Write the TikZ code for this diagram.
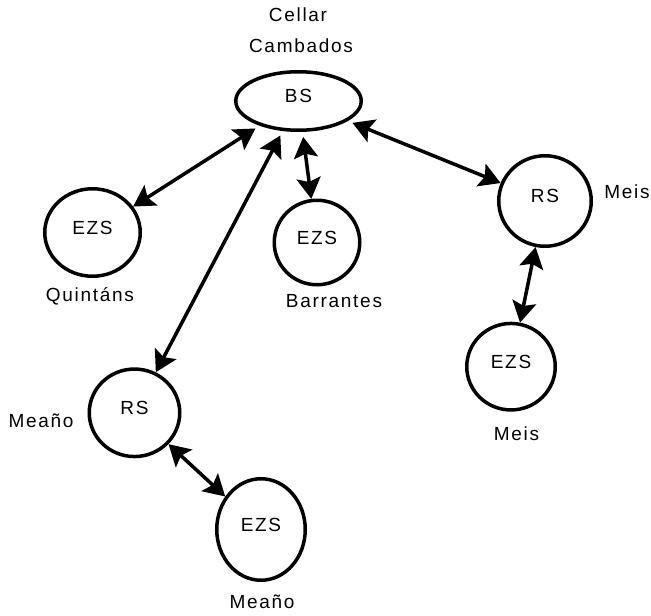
\documentclass[tikz,border=0pt]{standalone}
\usepackage{fontspec}
\setmainfont{Liberation Sans}[LetterSpace=9]
\usetikzlibrary{arrows.meta,shapes.geometric}
\begin{document}
\begin{tikzpicture}[x=1pt,y=-1pt,
  station/.style={draw, line width=3.5pt, ellipse, inner sep=0pt,
    text height=13pt, text depth=10pt, font=\fontsize{19}{21}\selectfont},
  place/.style={inner sep=0pt, anchor=base, font=\fontsize{19}{21}\selectfont},
  link/.style={line width=3.5pt, {Stealth[length=21pt,width=24pt,inset=4pt]}-{Stealth[length=21pt,width=24pt,inset=4pt]}},
]
\useasboundingbox (0,0) rectangle (651,616);

% stations
\node[station, minimum width=125.5pt, minimum height=58.5pt] (bs) at (298.5,101) {BS};
\node[station, minimum width=95.5pt, minimum height=87.5pt] (quin) at (92.5,232.5) {EZS};
\node[station, minimum width=85.5pt, minimum height=84.5pt] (barr) at (317,242.5) {EZS};
\node[station, minimum width=92.5pt, minimum height=90.5pt] (meisrs) at (545,201) {RS};
\node[station, minimum width=88.5pt, minimum height=86.5pt] (meisezs) at (511,366.7) {EZS};
\node[station, minimum width=90.5pt, minimum height=87.5pt] (mears) at (134.5,412.8) {RS};
\node[station, minimum width=88.5pt, minimum height=101.5pt] (meaezs) at (261,529.5) {EZS};

% place names
\node[place] (tcellar) at (298,21) {Cellar};
\node[place] (tcamb) at (301,52) {Cambados};
\node[place] (tquin) at (90,301) {Quintáns};
\node[place] (tbarr) at (334,307) {Barrantes};
\node[place] (tmeisr) at (627,198) {Meis};
\node[place] (tmeisb) at (516.5,440) {Meis};
\node[place] (tmeal) at (41,427) {Meaño};
\node[place] (tmeab) at (262,608) {Meaño};

% links
\draw[link, shorten <=5pt] (bs) -- (quin);
\draw[link, shorten <=5pt] (bs) -- (barr);
\draw[link, shorten <=5pt] (bs) -- (meisrs);
\draw[link, shorten <=5pt] (bs) -- (mears);
\draw[link] (meisrs) -- (meisezs);
\draw[link] (mears) -- (meaezs);
\end{tikzpicture}
\end{document}
